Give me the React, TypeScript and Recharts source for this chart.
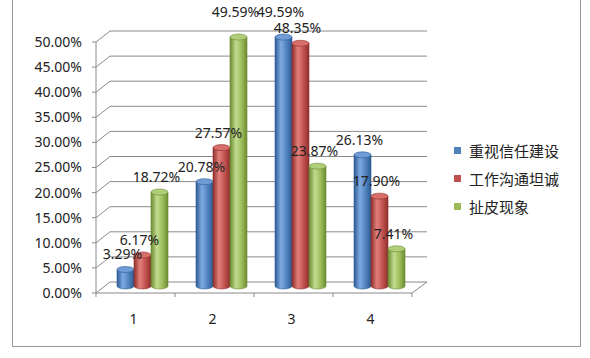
import React from "react";
import { BarChart, Bar, XAxis, YAxis, CartesianGrid, LabelList } from "recharts";

const categories = ["1", "2", "3", "4"];
const trustValues = [3.29, 20.78, 49.59, 26.13];
const candorValues = [6.17, 27.57, 48.35, 17.9];
const wranglingValues = [18.72, 49.59, 23.87, 7.41];
const seriesNames = ["重视信任建设", "工作沟通坦诚", "扯皮现象"];
const yTicks = [0, 5, 10, 15, 20, 25, 30, 35, 40, 45, 50];

const data = categories.map((name, i) => ({
  name,
  trust: trustValues[i],
  candor: candorValues[i],
  wrangling: wranglingValues[i],
}));

const series = [
  { key: "trust", name: seriesNames[0], base: "#4F81BD", dark: "#2d5b93", light: "#7eaae2", top: "#6f9cd6" },
  { key: "candor", name: seriesNames[1], base: "#C0504D", dark: "#8f2e2b", light: "#e2807c", top: "#d76e6a" },
  { key: "wrangling", name: seriesNames[2], base: "#9BBB59", dark: "#6c8b32", light: "#c2dc90", top: "#b0cd78" },
];

const W = 590;
const H = 358;
const PLOT_LEFT = 103;
const PLOT_RIGHT = 419;
const PLOT_TOP = 35;
const PLOT_BOTTOM = 286;
const HALF_BAND = (PLOT_RIGHT - PLOT_LEFT) / categories.length / 2;
const STEP = (PLOT_BOTTOM - PLOT_TOP) / (yTicks.length - 1);
// offset of the front (axis) plane relative to the bars
const FX = -7;
const FY = 7;
const GRID = "#8a8a8a";
const NUM_FONT = "'Noto Sans', sans-serif";

const Cylinder = (props: any) => {
  const { x, y, width, height, s } = props;
  if (height == null || width == null) return null;
  const rx = width / 2;
  const ry = 3;
  const d = `M${x},${y} L${x},${y + height} A${rx},${ry} 0 0 0 ${x + width},${y + height} L${x + width},${y} Z`;
  return (
    <g>
      <path d={d} fill={`url(#grad-${s.key})`} stroke={s.dark} strokeWidth={0.6} />
      <ellipse cx={x + rx} cy={y} rx={rx} ry={ry} fill={s.top} stroke={s.dark} strokeWidth={0.6} />
    </g>
  );
};

const renderLabel = (p: any) => {
  const { x, y, width, value } = p;
  const lift = value > 49 ? 10 : 0;
  return (
    <text x={x + width / 2 - 3} y={y - 10 - lift} textAnchor="middle" fontSize={14} fontFamily={NUM_FONT} fill="#222">
      {value.toFixed(2)}%
    </text>
  );
};

const renderGridLine = (p: any) => {
  const { x1, x2, y1 } = p;
  const isFloor = Math.abs(y1 - PLOT_BOTTOM) < 1;
  return (
    <g key={p.key}>
      <line x1={x1 + 7} y1={y1 - 4} x2={x2 + 8} y2={y1 - 4} stroke={GRID} />
      <line x1={x1 + FX} y1={y1 + FY} x2={x1 + 7} y2={y1 - 4} stroke={GRID} />
      {isFloor && <line x1={x2 + FX} y1={y1 + FY} x2={x2 + 8} y2={y1 - 4} stroke={GRID} />}
    </g>
  );
};

const YTick = (p: any) => {
  const { y, payload } = p;
  const fy = y + FY;
  const ax = PLOT_LEFT + FX;
  return (
    <g>
      <line x1={ax - 4} y1={fy} x2={ax} y2={fy} stroke={GRID} />
      {payload.value > 0 && <line x1={ax} y1={fy} x2={ax} y2={fy + STEP} stroke={GRID} />}
      <text x={82} y={fy} dy="0.355em" textAnchor="end" fontSize={14} fontFamily={NUM_FONT} fill="#222">
        {`${payload.value.toFixed(2)}%`}
      </text>
    </g>
  );
};

const XTick = (p: any) => {
  const { x, payload, index } = p;
  const fy = PLOT_BOTTOM + FY;
  const fx = x + FX;
  return (
    <g>
      <line x1={fx - HALF_BAND} y1={fy} x2={fx + HALF_BAND} y2={fy} stroke={GRID} />
      <line x1={fx - HALF_BAND} y1={fy} x2={fx - HALF_BAND} y2={fy + 4} stroke={GRID} />
      {index === categories.length - 1 && (
        <line x1={fx + HALF_BAND} y1={fy} x2={fx + HALF_BAND} y2={fy + 4} stroke={GRID} />
      )}
      <text x={fx - 2} y={fy + 31} textAnchor="middle" fontSize={14} fontFamily={NUM_FONT} fill="#222">
        {payload.value}
      </text>
    </g>
  );
};

export default function App() {
  return (
    <div style={{ position: "fixed", left: 0, top: 0, width: W, height: H, background: "#fff" }}>
      <div
        style={{
          position: "absolute",
          left: 12,
          top: -2,
          width: 569,
          height: 349,
          border: "1px solid #999",
          boxSizing: "border-box",
        }}
      />
      <BarChart
        width={W}
        height={H}
        data={data}
        margin={{ top: PLOT_TOP, right: W - PLOT_RIGHT, bottom: H - PLOT_BOTTOM - 30, left: 0 }}
        barCategoryGap="17%"
        barGap={0}
        style={{ position: "absolute", left: 0, top: 0 }}
      >
        <defs>
          {series.map((s) => (
            <linearGradient key={s.key} id={`grad-${s.key}`} x1="0" y1="0" x2="1" y2="0">
              <stop offset="0%" stopColor={s.dark} />
              <stop offset="35%" stopColor={s.light} />
              <stop offset="70%" stopColor={s.base} />
              <stop offset="100%" stopColor={s.dark} />
            </linearGradient>
          ))}
        </defs>
        <CartesianGrid vertical={false} horizontal={renderGridLine} />
        <XAxis
          dataKey="name"
          height={30}
          tickSize={0}
          tickMargin={0}
          tickLine={false}
          axisLine={false}
          tick={<XTick />}
          interval={0}
        />
        <YAxis
          width={PLOT_LEFT}
          domain={[0, 50]}
          ticks={yTicks}
          interval={0}
          axisLine={false}
          tickLine={false}
          tick={<YTick />}
        />
        {series.map((s) => (
          <Bar
            key={s.key}
            dataKey={s.key}
            name={s.name}
            barSize={17}
            isAnimationActive={false}
            shape={(p: any) => <Cylinder {...p} s={s} />}
          >
            <LabelList dataKey={s.key} content={renderLabel} />
          </Bar>
        ))}
      </BarChart>
      <div style={{ position: "absolute", left: 454, top: 136 }}>
        {series.map((s) => (
          <div
            key={s.key}
            style={{
              display: "flex",
              alignItems: "center",
              height: 28,
              fontSize: 15,
              fontFamily: "'Noto Sans CJK SC', sans-serif",
              color: "#222",
            }}
          >
            <span style={{ width: 7, height: 7, background: s.base, marginRight: 8, display: "inline-block" }} />
            {s.name}
          </div>
        ))}
      </div>
    </div>
  );
}
